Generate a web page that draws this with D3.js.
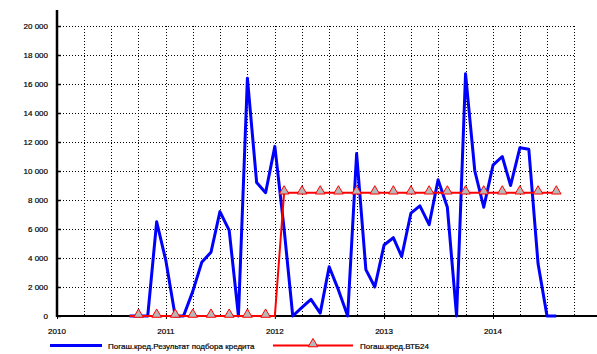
<!DOCTYPE html>
<html>
<head>
<meta charset="utf-8">
<script src="https://cdnjs.cloudflare.com/ajax/libs/d3/7.8.5/d3.min.js"></script>
<style>
    body { margin: 0; background: #fff; }
    svg { display: block; font-family: "Liberation Sans", Arial, sans-serif; }
</style>
</head>
<body>
<svg width="597" height="354"></svg>
<script>
var months = [
    "2010-09", "2010-10", "2010-11", "2010-12",
    "2011-01", "2011-02", "2011-03", "2011-04", "2011-05", "2011-06",
    "2011-07", "2011-08", "2011-09", "2011-10", "2011-11", "2011-12",
    "2012-01", "2012-02", "2012-03", "2012-04", "2012-05", "2012-06",
    "2012-07", "2012-08", "2012-09", "2012-10", "2012-11", "2012-12",
    "2013-01", "2013-02", "2013-03", "2013-04", "2013-05", "2013-06",
    "2013-07", "2013-08", "2013-09", "2013-10", "2013-11", "2013-12",
    "2014-01", "2014-02", "2014-03", "2014-04", "2014-05", "2014-06",
    "2014-07", "2014-08"
];
var seriesNames = ["Погаш.кред.Результат подбора кредита", "Погаш.кред.ВТБ24"];
var podbor = [
    0, 0, 0, 6500,
    3800, 0, 0, 1700, 3700, 4400, 7200, 5900, 0, 16400, 9200, 8500,
    11700, 6000, 0, 600, 1150, 200, 3400, 1800, 0, 11200, 3200, 2000,
    4900, 5400, 4100, 7100, 7600, 6300, 9400, 7500, 0, 16700, 10000, 7500,
    10400, 11000, 9000, 11600, 11500, 3600, 0, 0
];
var vtb = [
    0, 0, 0, 0,
    0, 0, 0, 0, 0, 0, 0, 0, 0, 0, 0, 0,
    0, 8500, 8500, 8500, 8500, 8500, 8500, 8500, 8500, 8500, 8500, 8500,
    8500, 8500, 8500, 8500, 8500, 8500, 8500, 8500, 8500, 8500, 8500, 8500,
    8500, 8500, 8500, 8500, 8500, 8500, 8500, 8500
];
var yTicks = [0, 2000, 4000, 6000, 8000, 10000, 12000, 14000, 16000, 18000, 20000];
var yearTicks = ["2010", "2011", "2012", "2013", "2014"];

var parseMonth = d3.timeParse("%Y-%m");
var fmt = function (v) { return d3.format(",")(v).replace(/,/g, " "); };

var svg = d3.select("svg");
var plotLeft = 57, plotBottom = 316, plotTop = 26;

var x = d3.scaleTime()
    .domain([new Date(2010, 0, 1), new Date(2014, 0, 1)])
    .range([plotLeft, 493]);
var y = d3.scaleLinear().domain([0, 20000]).range([plotBottom, plotTop]);

var gridEnd = x(new Date(2014, 9, 1));

// dotted grid
var quarters = d3.timeMonth.every(3).range(new Date(2010, 3, 1), new Date(2014, 10, 1));
svg.append("g").selectAll("line")
    .data(quarters)
    .enter().append("line")
    .attr("x1", function (d) { return Math.round(x(d)) + 0.5; })
    .attr("x2", function (d) { return Math.round(x(d)) + 0.5; })
    .attr("y1", y(20000))
    .attr("y2", plotBottom)
    .attr("stroke", "#000")
    .attr("stroke-dasharray", "1,2");

svg.append("g").selectAll("line")
    .data(yTicks.slice(1))
    .enter().append("line")
    .attr("x1", plotLeft)
    .attr("x2", gridEnd)
    .attr("y1", function (d) { return Math.round(y(d)) + 0.5; })
    .attr("y2", function (d) { return Math.round(y(d)) + 0.5; })
    .attr("stroke", "#000")
    .attr("stroke-dasharray", "1,2");

// axes
var yAxis = svg.append("g")
    .attr("transform", "translate(" + plotLeft + ",0)")
    .call(d3.axisRight(y).tickValues(yTicks).tickSize(4).tickFormat(""));
yAxis.select(".domain").remove();
yAxis.selectAll("line").attr("stroke-width", 1.5);

svg.append("g").selectAll("text")
    .data(yTicks)
    .enter().append("text")
    .attr("x", 48)
    .attr("y", function (d) { return y(d) + 3; })
    .attr("text-anchor", "end")
    .attr("font-size", 8)
    .attr("fill", "#000")
    .attr("stroke", "#000")
    .attr("stroke-width", 0.2)
    .text(function (d) { return fmt(d); });

var xAxis = svg.append("g")
    .attr("transform", "translate(0," + plotBottom + ")")
    .call(d3.axisBottom(x)
        .tickValues(yearTicks.map(function (d) { return new Date(+d, 0, 1); }))
        .tickSize(3)
        .tickFormat(""));
xAxis.select(".domain").remove();
xAxis.selectAll("line").attr("y1", -3);

svg.append("g").selectAll("text")
    .data(yearTicks)
    .enter().append("text")
    .attr("x", function (d) { return x(new Date(+d, 0, 1)); })
    .attr("y", 334)
    .attr("text-anchor", "middle")
    .attr("font-size", 8)
    .attr("stroke", "#000")
    .attr("stroke-width", 0.2)
    .text(function (d) { return d; });

svg.append("line")
    .attr("x1", plotLeft).attr("x2", 597)
    .attr("y1", plotBottom).attr("y2", plotBottom)
    .attr("stroke", "#000").attr("stroke-width", 2);
svg.append("line")
    .attr("x1", plotLeft).attr("x2", plotLeft)
    .attr("y1", 10).attr("y2", plotBottom + 1)
    .attr("stroke", "#000").attr("stroke-width", 2.5);

// series
var dates = months.map(parseMonth);
var line = d3.line()
    .x(function (d, i) { return x(dates[i]); })
    .y(function (d) { return y(d); });

svg.append("path")
    .datum(podbor)
    .attr("d", line)
    .attr("fill", "none")
    .attr("stroke", "#0000ff")
    .attr("stroke-width", 3)
    .attr("stroke-linejoin", "round");

svg.append("path")
    .datum(vtb)
    .attr("d", line)
    .attr("fill", "none")
    .attr("stroke", "#ff0000")
    .attr("stroke-width", 2);

// markers on every second point
var tri = d3.symbol().type(d3.symbolTriangle).size(40);
svg.append("g").selectAll("path")
    .data(vtb.map(function (v, i) { return {v: v, i: i}; })
        .filter(function (d) { return d.i % 2 === 1; }))
    .enter().append("path")
    .attr("d", tri)
    .attr("transform", function (d) {
        return "translate(" + x(dates[d.i]) + "," + (y(d.v) - 1.5) + ")";
    })
    .attr("fill", "#b8b8b8")
    .attr("stroke", "#ff0000")
    .attr("stroke-width", 1);

// legend
var lg = svg.append("g");
lg.append("line")
    .attr("x1", 50).attr("x2", 102).attr("y1", 345.5).attr("y2", 345.5)
    .attr("stroke", "#0000ff").attr("stroke-width", 3);
lg.append("text")
    .attr("x", 108).attr("y", 348.5).attr("font-size", 8)
    .attr("stroke", "#000").attr("stroke-width", 0.2)
    .text(seriesNames[0]);
lg.append("line")
    .attr("x1", 273).attr("x2", 353).attr("y1", 345.5).attr("y2", 345.5)
    .attr("stroke", "#ff0000").attr("stroke-width", 2);
lg.append("path")
    .attr("d", tri)
    .attr("transform", "translate(313,344)")
    .attr("fill", "#b8b8b8")
    .attr("stroke", "#ff0000");
lg.append("text")
    .attr("x", 360).attr("y", 348.5).attr("font-size", 8)
    .attr("stroke", "#000").attr("stroke-width", 0.2)
    .text(seriesNames[1]);
</script>
</body>
</html>
